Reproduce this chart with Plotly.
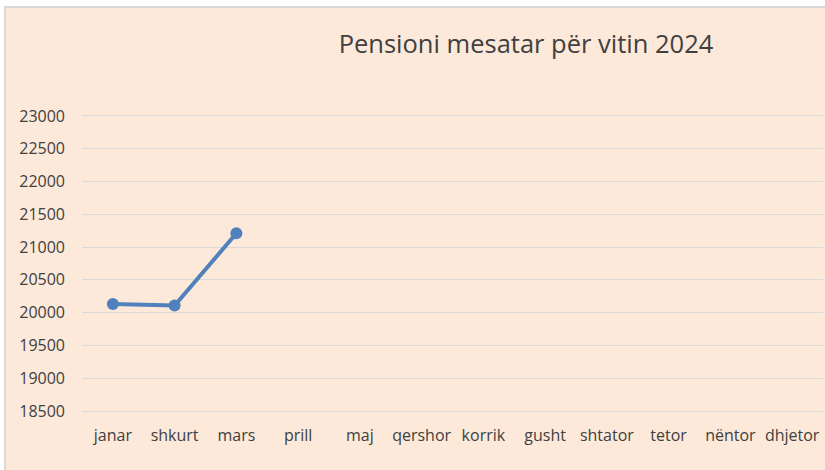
import plotly.graph_objects as go

months = ["janar", "shkurt", "mars", "prill", "maj", "qershor", "korrik",
          "gusht", "shtator", "tetor", "nëntor", "dhjetor"]
pension = [20132, 20108, 21211, None, None, None, None, None, None, None, None, None]
y_ticks = [18500, 19000, 19500, 20000, 20500, 21000, 21500, 22000, 22500, 23000]
title_text = "Pensioni mesatar për vitin 2024"

W, H = 825, 470
ML, MR, MT, MB = 82, 2, 114, 59
pw, ph = W - ML - MR, H - MT - MB

fig = go.Figure()
fig.add_trace(go.Scatter(
    x=months, y=pension, mode="lines+markers",
    line=dict(color="#4F81BD", width=4),
    marker=dict(color="#4F81BD", size=12),
    connectgaps=False, showlegend=False, hoverinfo="x+y",
))

# chart-area background with border (left/top)
fig.add_shape(type="rect", xref="paper", yref="paper", layer="below",
              x0=(5 - ML) / pw, x1=(W + 10 - ML) / pw,
              y0=(MT + ph - (H + 10)) / ph, y1=(MT + ph - 7) / ph,
              fillcolor="#FDE9D9", line=dict(color="#D9D9D9", width=2))

font_family = "Open Sans"
fig.update_layout(
    width=W, height=H,
    margin=dict(l=ML, r=MR, t=MT, b=MB),
    paper_bgcolor="white", plot_bgcolor="rgba(0,0,0,0)",
    title=dict(text=title_text, x=526 / W, xref="container", xanchor="center",
               y=1 - 44 / H, yref="container", yanchor="middle",
               font=dict(family=font_family, size=25.5, color="#404040")),
    font=dict(family=font_family, size=16, color="#404040"),
    xaxis=dict(type="category", categoryorder="array", categoryarray=months,
               range=[-0.5, 11.5], showgrid=False, showline=True,
               linecolor="#D9D9D9", linewidth=1, ticks="",
               ticklabelstandoff=10, zeroline=False,
               tickfont=dict(family=font_family, size=16, color="#404040")),
    yaxis=dict(range=[18500, 23030], tickvals=y_ticks,
               ticktext=[str(v) for v in y_ticks],
               showgrid=True, gridcolor="#D9D9D9", gridwidth=1,
               zeroline=False, showline=False, ticks="",
               ticklabelstandoff=16,
               tickfont=dict(family=font_family, size=16, color="#404040")),
)

fig.write_html("out.html", config={"displayModeBar": False},
               post_script="document.body.style.margin='0';document.body.style.overflow='hidden';")
